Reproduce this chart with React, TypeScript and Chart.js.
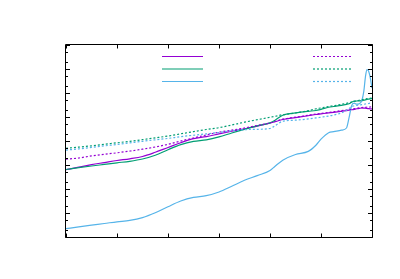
import React, { useEffect, useRef } from 'react';
import { Chart, registerables } from 'chart.js';

Chart.register(...registerables);

// x positions (axis units 0..6)
const XS = [0, 0.25, 0.5, 0.75, 1, 1.25, 1.5, 1.75, 2, 2.25, 2.5, 2.75, 3, 3.25, 3.5, 3.75, 4, 4.1, 4.25, 4.5, 4.75, 4.9, 5, 5.15, 5.25, 5.4, 5.5, 5.55, 5.6, 5.65, 5.7, 5.75, 5.8, 5.84, 5.87, 5.9, 5.93, 5.96, 6];

const PURPLE_SOLID = [637, 810, 1029, 1259, 1540, 1813, 2260, 3380, 5360, 8490, 12500, 15200, 19800, 25400, 32200, 41400, 55200, 63700, 78700, 94400, 113000, 127000, 135000, 148000, 157000, 173000, 185000, 192000, 200000, 209000, 220000, 228000, 237000, 235000, 233000, 228000, 224000, 220000, 215000];
const GREEN_SOLID = [649, 772, 908, 1059, 1236, 1426, 1778, 2560, 4340, 7080, 9620, 11200, 14800, 21500, 30700, 42600, 56800, 73600, 119000, 148000, 173000, 187000, 209000, 254000, 274000, 307000, 338000, 358000, 414000, 455000, 464000, 473000, 478000, 501000, 516000, 536000, 552000, 568000, 585000];
const BLUE_SOLID = [2.22, 2.66, 3.13, 3.65, 4.3, 4.92, 6.43, 10.2, 18.3, 31.6, 44.7, 52.6, 75, 130, 230, 362, 590, 891, 1585, 2740, 3690, 6680, 11900, 22200, 24400, 28200, 34800, 93500, 296000, 376000, 341000, 358000, 480000, 1200000, 4500000, 9500000, 8500000, 5000000, 1600000];
const PURPLE_DOTTED = [1745, 1958, 2390, 2790, 3220, 3800, 4550, 5620, 7290, 10000, 13300, 17900, 23300, 28200, 34800, 44300, 56800, 64900, 81000, 98100, 118000, 132000, 141000, 155000, 166000, 183000, 196000, 203000, 211000, 222000, 230000, 239000, 246000, 251000, 254000, 256000, 258000, 261000, 264000];
const GREEN_DOTTED = [4960, 5570, 6310, 7290, 8410, 9720, 11400, 13500, 16100, 19900, 24600, 30100, 35800, 46400, 60700, 77200, 97200, 107000, 125000, 147000, 183000, 220000, 239000, 274000, 296000, 338000, 372000, 394000, 422000, 447000, 473000, 497000, 526000, 547000, 562000, 579000, 590000, 601000, 619000];
const BLUE_DOTTED = [4180, 4690, 5410, 6250, 7150, 8330, 9720, 11200, 12800, 15100, 17400, 19800, 22600, 26900, 29600, 30700, 33200, 43400, 66800, 73600, 83400, 91700, 98100, 110000, 121000, 147000, 192000, 226000, 269000, 290000, 304000, 316000, 325000, 338000, 348000, 358000, 365000, 376000, 387000];

// axis ticks (no labels are shown)
const X_TICKS = [0, 1, 2, 3, 4, 5, 6];
const Y_MAJOR = [1, 10, 100, 1e3, 1e4, 1e5, 1e6, 1e7, 1e8];
const Y_MINOR_FACTORS = [2, 5];

const PURPLE = '#9400d3';
const GREEN = '#009e73';
const BLUE = '#56b4e9';

const SERIES = [
  { data: PURPLE_SOLID, color: PURPLE, dash: [] as number[] },
  { data: GREEN_SOLID, color: GREEN, dash: [] as number[] },
  { data: BLUE_SOLID, color: BLUE, dash: [] as number[] },
  { data: PURPLE_DOTTED, color: PURPLE, dash: [2, 2] },
  { data: GREEN_DOTTED, color: GREEN, dash: [2, 2] },
  { data: BLUE_DOTTED, color: BLUE, dash: [2, 2] },
];

const frameAndTicks = {
  id: 'frameAndTicks',
  afterDraw(chart: any) {
    const { ctx, chartArea: a, scales } = chart;
    const xs = scales.x;
    const ys = scales.y;
    const L = a.left - 0.5, R = a.right + 0.5, T = a.top - 0.5, B = a.bottom + 0.5;
    ctx.save();
    ctx.strokeStyle = '#000';
    ctx.lineWidth = 1;
    ctx.setLineDash([]);
    ctx.beginPath();
    ctx.rect(L, T, R - L, B - T);
    for (const v of X_TICKS) {
      const px = Math.round(xs.getPixelForValue(v)) + 0.5;
      ctx.moveTo(px, B); ctx.lineTo(px, B - 4);
      ctx.moveTo(px, T); ctx.lineTo(px, T + 4);
    }
    for (const v of Y_MAJOR) {
      const py = Math.round(ys.getPixelForValue(v)) + 0.5;
      ctx.moveTo(L, py); ctx.lineTo(L + 4.5, py);
      ctx.moveTo(R, py); ctx.lineTo(R - 4.5, py);
      for (const f of Y_MINOR_FACTORS) {
        const mv = v * f;
        if (mv >= ys.max) continue;
        const my = Math.round(ys.getPixelForValue(mv)) + 0.5;
        ctx.moveTo(L, my); ctx.lineTo(L + 2.5, my);
        ctx.moveTo(R, my); ctx.lineTo(R - 2.5, my);
      }
    }
    ctx.stroke();

    // key: line samples only (empty titles)
    const rows = [56.5, 69, 81.5];
    const cols = [[162, 203], [313, 353]];
    chart.data.datasets.forEach((ds: any, i: number) => {
      const [x0, x1] = cols[i < 3 ? 0 : 1];
      const y = rows[i % 3];
      ctx.beginPath();
      ctx.strokeStyle = ds.borderColor;
      ctx.lineWidth = ds.borderWidth;
      ctx.setLineDash(ds.borderDash || []);
      ctx.moveTo(x0, y);
      ctx.lineTo(x1, y);
      ctx.stroke();
    });
    ctx.restore();
  },
};

export default function App() {
  const ref = useRef<HTMLCanvasElement>(null);
  useEffect(() => {
    if (!ref.current) return;
    const chart = new Chart(ref.current, {
      type: 'line',
      data: {
        datasets: SERIES.map((s, i) => ({
          label: '',
          data: XS.map((x, j) => ({ x, y: s.data[j] })),
          borderColor: s.color,
          backgroundColor: s.color,
          borderWidth: 1.2,
          borderDash: s.dash,
          pointRadius: 0,
          fill: false,
          cubicInterpolationMode: 'monotone' as const,
          order: 5 - i,
        })),
      },
      options: {
        animation: false,
        responsive: false,
        maintainAspectRatio: false,
        events: [],
        layout: { padding: { left: 66, right: 28, top: 45, bottom: 42 } },
        plugins: { legend: { display: false }, tooltip: { enabled: false }, title: { display: false } },
        scales: {
          x: { type: 'linear', min: 0, max: 6, display: false },
          y: { type: 'logarithmic', min: 1, max: 1e8, display: false },
        },
      },
      plugins: [frameAndTicks],
    });
    return () => chart.destroy();
  }, []);
  return (
    <div style={{ position: 'fixed', left: 0, top: 0, width: 400, height: 279, background: '#fff' }}>
      <canvas ref={ref} width={400} height={279} style={{ width: 400, height: 279 }} />
    </div>
  );
}
